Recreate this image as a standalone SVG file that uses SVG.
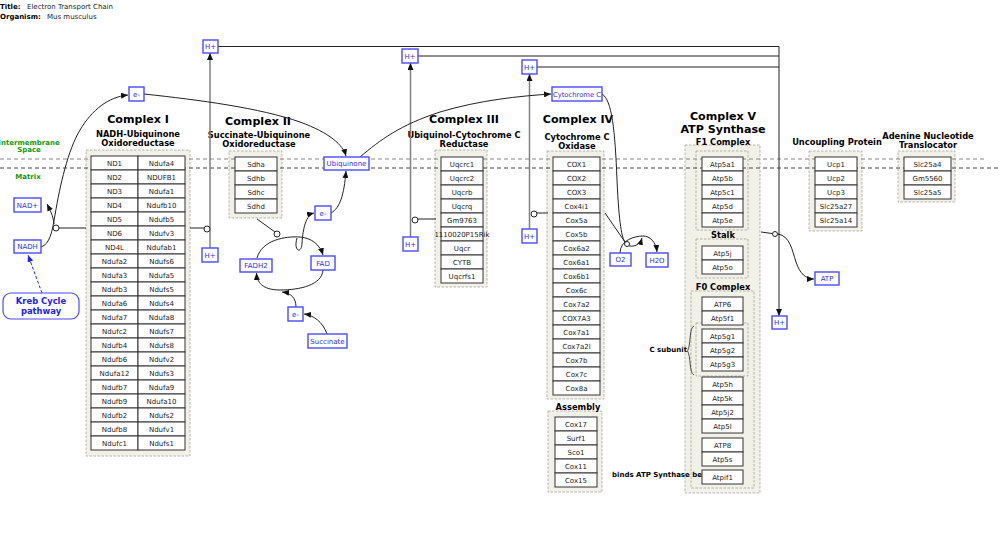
<svg xmlns="http://www.w3.org/2000/svg" width="1000" height="533" viewBox="0 0 1000 533">
<style>
.grp{fill:#f1f1e8;stroke:#a5a5a0;stroke-width:0.8;stroke-dasharray:2.5,1.5}
.cell rect{fill:#fff;stroke:#333;stroke-width:1}
.cell text{font-family:"DejaVu Sans",sans-serif;font-size:7px;text-anchor:middle;fill:#222}
.node rect{fill:#fff;stroke:#4a4aff;stroke-width:1.4}
.node text{font-family:"DejaVu Sans",sans-serif;font-size:7px;text-anchor:middle;fill:#3030e0}
.ttl{font-family:"DejaVu Sans",sans-serif;font-weight:bold;font-size:11.1px;text-anchor:middle;fill:#000}
.sub{font-family:"DejaVu Sans",sans-serif;font-weight:bold;font-size:8.3px;text-anchor:middle;fill:#000}
.lbl{font-family:"DejaVu Sans",sans-serif;font-weight:bold;font-size:7px;fill:#000}
.grn{font-family:"DejaVu Sans",sans-serif;font-weight:bold;font-size:7px;text-anchor:middle;fill:#119911}
.con{fill:none;stroke:#222;stroke-width:1}
.hp{fill:none;stroke:#808080;stroke-width:1.5}
.anc{fill:#fff;stroke:#222;stroke-width:1}
</style>
<defs>
<marker id="ar" markerUnits="userSpaceOnUse" markerWidth="7" markerHeight="6" refX="7" refY="3" orient="auto"><path d="M0,0 L7,3 L0,6 z" fill="#111"/></marker>
<marker id="arb" markerUnits="userSpaceOnUse" markerWidth="7" markerHeight="6" refX="7" refY="3" orient="auto"><path d="M0,0 L7,3 L0,6 z" fill="#2222ee"/></marker>
</defs>

<g id="header">
<text class="lbl" x="0" y="9">Title:</text>
<text x="27" y="9" font-family="DejaVu Sans, sans-serif" font-size="7" fill="#222">Electron Transport Chain</text>
<text class="lbl" x="0" y="19">Organism:</text>
<text x="47" y="19" font-family="DejaVu Sans, sans-serif" font-size="7" fill="#222">Mus musculus</text>
</g>

<g id="containers">
<rect class="grp" x="86" y="150" width="104" height="306"/>
<rect class="grp" x="229" y="151" width="53" height="67"/>
<rect class="grp" x="435" y="150" width="52" height="137"/>
<rect class="grp" x="547" y="151" width="57" height="248"/>
<rect class="grp" x="548" y="411" width="54" height="81"/>
<rect class="grp" x="685" y="145" width="75" height="348"/>
<rect class="grp" x="696" y="151" width="52" height="79"/>
<rect class="grp" x="696" y="239" width="52" height="39"/>
<rect class="grp" x="691" y="291" width="63" height="197"/>
<rect class="grp" x="696" y="323" width="52" height="53"/>
<rect class="grp" x="809" y="151" width="53" height="80"/>
<rect class="grp" x="898" y="151" width="57" height="51"/>
</g>

<g id="membrane">
<line x1="0" y1="159" x2="987" y2="159" stroke="#888" stroke-width="1" stroke-dasharray="4,3"/>
<line x1="0" y1="168" x2="1000" y2="168" stroke="#444" stroke-width="1" stroke-dasharray="4,3"/>
<text class="grn" x="29" y="145">Intermembrane</text>
<text class="grn" x="29" y="152">Space</text>
<text class="grn" x="28" y="179">Matrix</text>
</g>

<g id="labels">
<text class="ttl" x="138" y="123">Complex I</text>
<text class="sub" x="138" y="137">NADH-Ubiquinone</text>
<text class="sub" x="138" y="146">Oxidoreductase</text>
<text class="ttl" x="258" y="125">Complex II</text>
<text class="sub" x="259" y="138">Succinate-Ubiquinone</text>
<text class="sub" x="259" y="147">Oxidoreductase</text>
<text class="ttl" x="464" y="123">Complex III</text>
<text class="sub" x="464" y="138">Ubiquinol-Cytochrome C</text>
<text class="sub" x="464" y="147">Reductase</text>
<text class="ttl" x="578" y="123">Complex IV</text>
<text class="sub" x="577" y="140">Cytochrome C</text>
<text class="sub" x="577" y="149">Oxidase</text>
<text class="sub" x="578" y="410">Assembly</text>
<text class="ttl" x="723" y="120">Complex V</text>
<text class="ttl" x="723" y="133">ATP Synthase</text>
<text class="sub" x="723" y="145">F1 Complex</text>
<text class="sub" x="723" y="238">Stalk</text>
<text class="sub" x="723" y="290">F0 Complex</text>
<text class="lbl" x="687" y="352" text-anchor="end">C subunit</text>
<path d="M694,326 C689,327 691,346 687.5,351 C691,356 689,373 694,375" fill="none" stroke="#222" stroke-width="0.8"/>
<text class="lbl" x="612" y="477">binds ATP Synthase be</text>
<text class="sub" x="837" y="145">Uncoupling Protein</text>
<text class="sub" x="928" y="139">Adenine Nucleotide</text>
<text class="sub" x="928" y="148">Translocator</text>
</g>

<g id="connectors">
<path class="con" d="M218,46.5 H779 V316" stroke-width="1.2" marker-end="url(#ar)"/>
<path class="con" d="M418,56 H779" stroke-width="1.2"/>
<path class="con" d="M537,67 H779" stroke-width="1.2"/>
<path class="hp" d="M210,248 V53" marker-end="url(#ar)"/>
<path class="hp" d="M410.5,237 V63" marker-end="url(#ar)"/>
<path class="hp" d="M529.5,229 V74" marker-end="url(#ar)"/>
<path class="con" d="M41,247 C50,244 52,232 55,215 C60,185 68,150 80,130 C92,110 108,97 128,95" marker-end="url(#ar)"/>
<path class="con" d="M54,224 C53,215 50,210 47,204" marker-end="url(#ar)"/>
<path class="con" d="M86,228 H59"/>
<circle class="anc" cx="56" cy="228" r="3"/>
<path d="M42,293 L28,255" fill="none" stroke="#2222ee" stroke-width="1" stroke-dasharray="3,2" marker-end="url(#arb)"/>
<path class="con" d="M144,94 C200,100 260,108 300,122 C330,133 343,145 346,156" marker-end="url(#ar)"/>
<path class="con" d="M360,157 C380,140 400,125 440,112 C480,100 520,96 551,94" marker-end="url(#ar)"/>
<path class="con" d="M190,228 H204"/>
<circle class="anc" cx="207" cy="229" r="3"/>
<path class="con" d="M257,219 L275,232"/>
<circle class="anc" cx="277" cy="234" r="3"/>
<path class="con" d="M257,258 C262,240 285,236 300,237 C312,238 320,245 323,255" marker-end="url(#ar)"/>
<path class="con" d="M297,238 C293,252 302,254 302,243 C303,228 306,215 314,213" marker-end="url(#ar)"/>
<path class="con" d="M323,270 C322,285 300,290 280,290 C262,290 257,282 256.5,273" marker-end="url(#ar)"/>
<path class="con" d="M296,307 C296,298 291,293 282,292" marker-end="url(#ar)"/>
<path class="con" d="M327,334 C323,322 313,315 304,314" marker-end="url(#ar)"/>
<path class="con" d="M331,213 C340,208 344,195 346,171" marker-end="url(#ar)"/>
<path class="con" d="M436,219 H418"/>
<circle class="anc" cx="415" cy="220" r="3"/>
<path class="con" d="M548,213 H537"/>
<circle class="anc" cx="534" cy="214" r="3"/>
<path class="con" d="M602,94 C612,100 615,130 617,180 C619,225 622,238 625,242"/>
<path class="con" d="M605,213 L625,242"/>
<path class="con" d="M620,253 C620,240 635,236 643,236 C650,236 656,242 657,252" marker-end="url(#ar)"/>
<path class="con" d="M627,245 C633,248 640,245 642,238" marker-end="url(#ar)"/>
<circle class="anc" cx="627" cy="244" r="2.5"/>
<path class="con" d="M761,232 L772,233.5"/>
<path class="con" d="M778,234 C790,236 792,250 796,262 C800,274 806,279 814,279" marker-end="url(#ar)"/>
<circle class="anc" cx="775" cy="234" r="2.5"/>
</g>

<g id="complex1" class="cell">
<rect x="91" y="156" width="47" height="14"/><text x="114.5" y="166">ND1</text><rect x="138" y="156" width="47" height="14"/><text x="161.5" y="166">Ndufa4</text>
<rect x="91" y="170" width="47" height="14"/><text x="114.5" y="180">ND2</text><rect x="138" y="170" width="47" height="14"/><text x="161.5" y="180">NDUFB1</text>
<rect x="91" y="184" width="47" height="14"/><text x="114.5" y="194">ND3</text><rect x="138" y="184" width="47" height="14"/><text x="161.5" y="194">Ndufa1</text>
<rect x="91" y="198" width="47" height="14"/><text x="114.5" y="208">ND4</text><rect x="138" y="198" width="47" height="14"/><text x="161.5" y="208">Ndufb10</text>
<rect x="91" y="212" width="47" height="14"/><text x="114.5" y="222">ND5</text><rect x="138" y="212" width="47" height="14"/><text x="161.5" y="222">Ndufb5</text>
<rect x="91" y="226" width="47" height="14"/><text x="114.5" y="236">ND6</text><rect x="138" y="226" width="47" height="14"/><text x="161.5" y="236">Ndufv3</text>
<rect x="91" y="240" width="47" height="14"/><text x="114.5" y="250">ND4L</text><rect x="138" y="240" width="47" height="14"/><text x="161.5" y="250">Ndufab1</text>
<rect x="91" y="254" width="47" height="14"/><text x="114.5" y="264">Ndufa2</text><rect x="138" y="254" width="47" height="14"/><text x="161.5" y="264">Ndufs6</text>
<rect x="91" y="268" width="47" height="14"/><text x="114.5" y="278">Ndufa3</text><rect x="138" y="268" width="47" height="14"/><text x="161.5" y="278">Ndufa5</text>
<rect x="91" y="282" width="47" height="14"/><text x="114.5" y="292">Ndufb3</text><rect x="138" y="282" width="47" height="14"/><text x="161.5" y="292">Ndufs5</text>
<rect x="91" y="296" width="47" height="14"/><text x="114.5" y="306">Ndufa6</text><rect x="138" y="296" width="47" height="14"/><text x="161.5" y="306">Ndufs4</text>
<rect x="91" y="310" width="47" height="14"/><text x="114.5" y="320">Ndufa7</text><rect x="138" y="310" width="47" height="14"/><text x="161.5" y="320">Ndufa8</text>
<rect x="91" y="324" width="47" height="14"/><text x="114.5" y="334">Ndufc2</text><rect x="138" y="324" width="47" height="14"/><text x="161.5" y="334">Ndufs7</text>
<rect x="91" y="338" width="47" height="14"/><text x="114.5" y="348">Ndufb4</text><rect x="138" y="338" width="47" height="14"/><text x="161.5" y="348">Ndufs8</text>
<rect x="91" y="352" width="47" height="14"/><text x="114.5" y="362">Ndufb6</text><rect x="138" y="352" width="47" height="14"/><text x="161.5" y="362">Ndufv2</text>
<rect x="91" y="366" width="47" height="14"/><text x="114.5" y="376">Ndufa12</text><rect x="138" y="366" width="47" height="14"/><text x="161.5" y="376">Ndufs3</text>
<rect x="91" y="380" width="47" height="14"/><text x="114.5" y="390">Ndufb7</text><rect x="138" y="380" width="47" height="14"/><text x="161.5" y="390">Ndufa9</text>
<rect x="91" y="394" width="47" height="14"/><text x="114.5" y="404">Ndufb9</text><rect x="138" y="394" width="47" height="14"/><text x="161.5" y="404">Ndufa10</text>
<rect x="91" y="408" width="47" height="14"/><text x="114.5" y="418">Ndufb2</text><rect x="138" y="408" width="47" height="14"/><text x="161.5" y="418">Ndufs2</text>
<rect x="91" y="422" width="47" height="14"/><text x="114.5" y="432">Ndufb8</text><rect x="138" y="422" width="47" height="14"/><text x="161.5" y="432">Ndufv1</text>
<rect x="91" y="436" width="47" height="14"/><text x="114.5" y="446">Ndufc1</text><rect x="138" y="436" width="47" height="14"/><text x="161.5" y="446">Ndufs1</text>
</g>

<g id="complex2" class="cell">
<rect x="235" y="157" width="42" height="14"/><text x="256" y="167">Sdha</text>
<rect x="235" y="171" width="42" height="14"/><text x="256" y="181">Sdhb</text>
<rect x="235" y="185" width="42" height="14"/><text x="256" y="195">Sdhc</text>
<rect x="235" y="199" width="42" height="14"/><text x="256" y="209">Sdhd</text>
</g>

<g id="complex3" class="cell">
<rect x="441" y="157" width="42" height="14"/><text x="462" y="167">Uqcrc1</text>
<rect x="441" y="171" width="42" height="14"/><text x="462" y="181">Uqcrc2</text>
<rect x="441" y="185" width="42" height="14"/><text x="462" y="195">Uqcrb</text>
<rect x="441" y="199" width="42" height="14"/><text x="462" y="209">Uqcrq</text>
<rect x="441" y="213" width="42" height="14"/><text x="462" y="223">Gm9763</text>
<rect x="441" y="227" width="42" height="14"/><text x="462" y="237">1110020P15Rik</text>
<rect x="441" y="241" width="42" height="14"/><text x="462" y="251">Uqcr</text>
<rect x="441" y="255" width="42" height="14"/><text x="462" y="265">CYTB</text>
<rect x="441" y="269" width="42" height="14"/><text x="462" y="279">Uqcrfs1</text>
</g>

<g id="complex4" class="cell">
<rect x="553" y="157" width="47" height="14"/><text x="576.5" y="167">COX1</text>
<rect x="553" y="171" width="47" height="14"/><text x="576.5" y="181">COX2</text>
<rect x="553" y="185" width="47" height="14"/><text x="576.5" y="195">COX3</text>
<rect x="553" y="199" width="47" height="14"/><text x="576.5" y="209">Cox4i1</text>
<rect x="553" y="213" width="47" height="14"/><text x="576.5" y="223">Cox5a</text>
<rect x="553" y="227" width="47" height="14"/><text x="576.5" y="237">Cox5b</text>
<rect x="553" y="241" width="47" height="14"/><text x="576.5" y="251">Cox6a2</text>
<rect x="553" y="255" width="47" height="14"/><text x="576.5" y="265">Cox6a1</text>
<rect x="553" y="269" width="47" height="14"/><text x="576.5" y="279">Cox6b1</text>
<rect x="553" y="283" width="47" height="14"/><text x="576.5" y="293">Cox6c</text>
<rect x="553" y="297" width="47" height="14"/><text x="576.5" y="307">Cox7a2</text>
<rect x="553" y="311" width="47" height="14"/><text x="576.5" y="321">COX7A3</text>
<rect x="553" y="325" width="47" height="14"/><text x="576.5" y="335">Cox7a1</text>
<rect x="553" y="339" width="47" height="14"/><text x="576.5" y="349">Cox7a2l</text>
<rect x="553" y="353" width="47" height="14"/><text x="576.5" y="363">Cox7b</text>
<rect x="553" y="367" width="47" height="14"/><text x="576.5" y="377">Cox7c</text>
<rect x="553" y="381" width="47" height="14"/><text x="576.5" y="391">Cox8a</text>
</g>

<g id="assembly" class="cell">
<rect x="555" y="417" width="42" height="14"/><text x="576" y="427">Cox17</text>
<rect x="555" y="431" width="42" height="14"/><text x="576" y="441">Surf1</text>
<rect x="555" y="445" width="42" height="14"/><text x="576" y="455">Sco1</text>
<rect x="555" y="459" width="42" height="14"/><text x="576" y="469">Cox11</text>
<rect x="555" y="473" width="42" height="14"/><text x="576" y="483">Cox15</text>
</g>

<g id="complex5" class="cell">
<rect x="702" y="157" width="41" height="14"/><text x="722.5" y="167">Atp5a1</text>
<rect x="702" y="171" width="41" height="14"/><text x="722.5" y="181">Atp5b</text>
<rect x="702" y="185" width="41" height="14"/><text x="722.5" y="195">Atp5c1</text>
<rect x="702" y="199" width="41" height="14"/><text x="722.5" y="209">Atp5d</text>
<rect x="702" y="213" width="41" height="14"/><text x="722.5" y="223">Atp5e</text>
<rect x="702" y="246" width="41" height="14"/><text x="722.5" y="256">Atp5j</text>
<rect x="702" y="260" width="41" height="14"/><text x="722.5" y="270">Atp5o</text>
<rect x="702" y="297" width="41" height="14"/><text x="722.5" y="307">ATP6</text>
<rect x="702" y="311" width="41" height="14"/><text x="722.5" y="321">Atp5f1</text>
<rect x="702" y="329" width="41" height="14"/><text x="722.5" y="339">Atp5g1</text>
<rect x="702" y="343" width="41" height="14"/><text x="722.5" y="353">Atp5g2</text>
<rect x="702" y="357" width="41" height="14"/><text x="722.5" y="367">Atp5g3</text>
<rect x="702" y="377" width="41" height="14"/><text x="722.5" y="387">Atp5h</text>
<rect x="702" y="391" width="41" height="14"/><text x="722.5" y="401">Atp5k</text>
<rect x="702" y="405" width="41" height="14"/><text x="722.5" y="415">Atp5j2</text>
<rect x="702" y="419" width="41" height="14"/><text x="722.5" y="429">Atp5l</text>
<rect x="702" y="438" width="41" height="14"/><text x="722.5" y="448">ATP8</text>
<rect x="702" y="452" width="41" height="14"/><text x="722.5" y="462">Atp5s</text>
<rect x="702" y="470" width="41" height="14"/><text x="722.5" y="480">Atpif1</text>
</g>

<g id="ucp" class="cell">
<rect x="815" y="157" width="42" height="14"/><text x="836" y="167">Ucp1</text>
<rect x="815" y="171" width="42" height="14"/><text x="836" y="181">Ucp2</text>
<rect x="815" y="185" width="42" height="14"/><text x="836" y="195">Ucp3</text>
<rect x="815" y="199" width="42" height="14"/><text x="836" y="209">Slc25a27</text>
<rect x="815" y="213" width="42" height="14"/><text x="836" y="223">Slc25a14</text>
</g>

<g id="ant" class="cell">
<rect x="904" y="157" width="47" height="14"/><text x="927.5" y="167">Slc25a4</text>
<rect x="904" y="171" width="47" height="14"/><text x="927.5" y="181">Gm5560</text>
<rect x="904" y="185" width="47" height="14"/><text x="927.5" y="195">Slc25a5</text>
</g>

<g id="hplus1top" class="node"><rect x="203" y="40" width="15" height="13"/><text x="210.5" y="49">H+</text></g>
<g id="hplus1bot" class="node"><rect x="202" y="248" width="16" height="14"/><text x="210" y="257.5">H+</text></g>
<g id="hplus3top" class="node"><rect x="402" y="49" width="16" height="14"/><text x="410" y="58.5">H+</text></g>
<g id="hplus3bot" class="node"><rect x="403" y="237" width="15" height="14"/><text x="410.5" y="246.5">H+</text></g>
<g id="hplus4top" class="node"><rect x="522" y="60" width="15" height="14"/><text x="529.5" y="69.5">H+</text></g>
<g id="hplus4bot" class="node"><rect x="522" y="229" width="15" height="14"/><text x="529.5" y="238.5">H+</text></g>
<g id="hplus5" class="node"><rect x="772" y="316" width="15" height="13"/><text x="779.5" y="325">H+</text></g>
<g id="e1" class="node"><rect x="129" y="87" width="15" height="14"/><text x="136.5" y="96.5">e-</text></g>
<g id="nadh" class="node"><rect x="14" y="240" width="27" height="13"/><text x="27.5" y="249">NADH</text></g>
<g id="nadplus" class="node"><rect x="14" y="198" width="27" height="14"/><text x="27.5" y="207.5">NAD+</text></g>
<g id="ubiquinone" class="node"><rect x="324" y="157" width="45" height="13"/><text x="346.5" y="166">Ubiquinone</text></g>
<g id="e2" class="node"><rect x="315" y="206" width="16" height="14"/><text x="323" y="215.5">e-</text></g>
<g id="fadh2" class="node"><rect x="240" y="259" width="32" height="13"/><text x="256" y="268">FADH2</text></g>
<g id="fad" class="node"><rect x="311" y="256" width="24" height="14"/><text x="323" y="265.5">FAD</text></g>
<g id="e3" class="node"><rect x="288" y="307" width="15" height="14"/><text x="295.5" y="316.5">e-</text></g>
<g id="succinate" class="node"><rect x="308" y="334" width="39" height="14"/><text x="327.5" y="343.5">Succinate</text></g>
<g id="cytc" class="node"><rect x="552" y="87" width="50" height="14"/><text x="577" y="96.5" style="font-size:6.8px">Cytochrome C</text></g>
<g id="o2" class="node"><rect x="610" y="253" width="21" height="13"/><text x="620.5" y="262">O2</text></g>
<g id="h2o" class="node"><rect x="646" y="253" width="22" height="14"/><text x="657" y="262.5">H2O</text></g>
<g id="atp" class="node"><rect x="815" y="272" width="24" height="13"/><text x="827" y="281">ATP</text></g>
<g id="kreb"><rect x="3" y="293" width="76" height="26" rx="8" fill="#fff" stroke="#4a4aff" stroke-width="1.2"/>
<text x="41" y="304" font-family="DejaVu Sans, sans-serif" font-weight="bold" font-size="8.4" text-anchor="middle" fill="#2222ee">Kreb Cycle</text>
<text x="41" y="314" font-family="DejaVu Sans, sans-serif" font-weight="bold" font-size="8.4" text-anchor="middle" fill="#2222ee">pathway</text></g>
</svg>
